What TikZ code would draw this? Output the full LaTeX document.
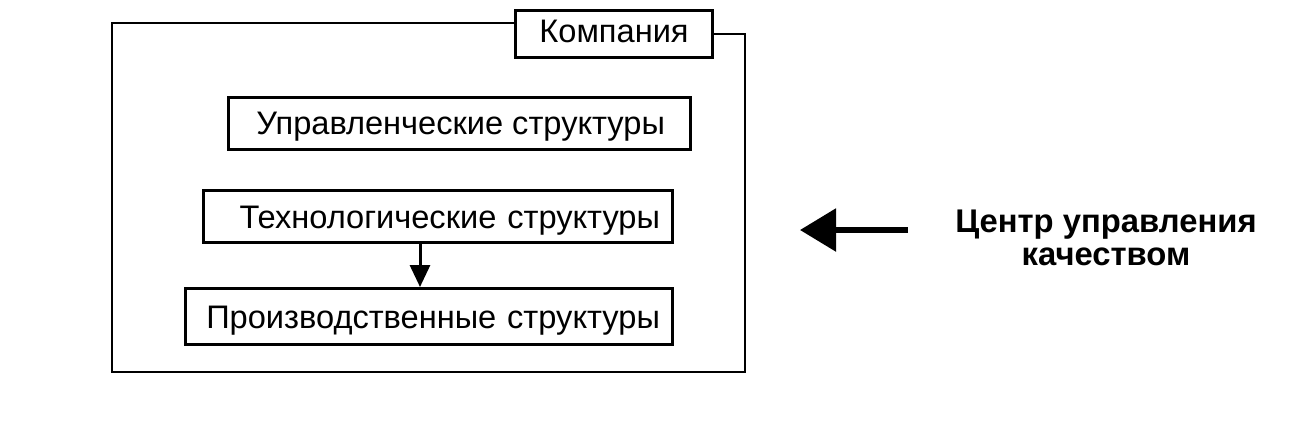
\documentclass[tikz,border=0pt]{standalone}
\usepackage{fontspec}
\setmainfont{Liberation Sans}
\usetikzlibrary{arrows.meta}
\usetikzlibrary{positioning}

\begin{document}
\begin{tikzpicture}[x=0.5pt,y=-0.5pt,
    struct/.style={draw, line width=1.5pt, minimum height=26pt, inner xsep=6pt,
        text height=15pt, text depth=3.5pt,
        align=right, font=\fontsize{16.3}{19}\selectfont},
    frame/.style={line width=1.4pt},
    flow/.style={-{Triangle[length=11pt,width=10pt]}, line width=1.5pt},
    bigarrow/.style={-{Triangle[length=18pt,width=21pt]}, line width=2.8pt}]
\useasboundingbox (0,0) rectangle (1292,420);
\node[struct, inner xsep=12.5pt] (upr) at (459,123) {\makebox[206pt][r]{Управленческие структуры}};
\node[struct, text width=222.5pt] (tech) at (437.5,216.5) {Технологические структуры};
\node[struct, text width=231.5pt, minimum height=28pt] (proizv) at (428.5,316.5) {Производственные структуры};
\node[struct, minimum width=98.5pt, minimum height=23.5pt, align=center,
    text height=12pt] (komp) at (614,33.5) {Компания};
\coordinate (ftop) at (112,23);
\coordinate (fright) at (745,34);
\draw[frame] (komp.west |- ftop) -- (ftop) -- (112,372) -- (745,372) -- (fright) -- (komp.east |- fright);
\draw[flow] (tech.south -| 420,0) -- (proizv.north -| 420,0);
\node[align=center, font=\bfseries\fontsize{16.4}{16.5}\selectfont] (centr) at (1106,238) {Центр управления\\качеством};
\coordinate (tip) at (800,230);
\draw[bigarrow, shorten <=20pt] (centr.west |- tip) -- (tip);
\end{tikzpicture}
\end{document}
